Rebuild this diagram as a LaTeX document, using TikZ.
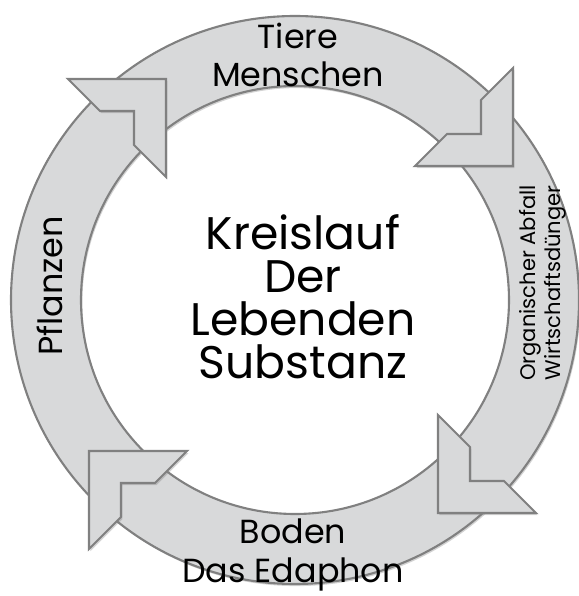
\documentclass[tikz,border=0pt]{standalone}
\usepackage{fontspec}
\setmainfont{Poppins}
\usepackage{tikz}
\usetikzlibrary{shadows}
\definecolor{ringgray}{RGB}{216,217,218}
\definecolor{linegray}{RGB}{128,128,128}

\begin{document}
\begin{tikzpicture}[
    % 圆环样式定义
    ring style/.style={
        draw=linegray,       % 灰色边框
        line width=1.2pt,    % 边框线宽
        fill=ringgray,       % 浅灰填充
        drop shadow={opacity=0.35, shadow xshift=0.8pt, shadow yshift=-1.2pt}
    },
    % 角形箭头样式定义
    turn arrow/.pic={
        \draw[
            draw=linegray,   % 灰色边框
            line width=1.2pt,
            fill=ringgray,   % 与圆环同色
            line join=miter,
            drop shadow={opacity=0.35, shadow xshift=0.8pt, shadow yshift=-1.2pt}
        ] (-1.96,0) -- (0,0) -- (0,-1.96) -- (-0.64,-1.32)
          -- (-0.64,-0.64) -- (-1.32,-0.64) -- cycle;
    },
    % 圆环上的文字
    ring label/.style={
        align=center,
        font=\fontsize{19}{22}\selectfont
    },
    % 右侧较小的文字
    small label/.style={
        align=center,
        font=\fontsize{12}{14}\selectfont
    },
    % 中间的标题
    centre label/.style={
        align=center,
        font=\fontsize{26}{24.5}\selectfont
    }
]
\useasboundingbox (-5.9,-5.92) rectangle (5.68,6.0);

% 圆环 (外圈逆时针, 内圈顺时针, 中间留空)
\path[ring style]
    (0:5.68) arc[start angle=0, end angle=360, radius=5.68] -- cycle
    (0:4.28) arc[start angle=360, end angle=0, radius=4.28] -- cycle;

% 四个箭头
\pic at (-2.58,4.42) {turn arrow};
\pic[rotate=-90] at (4.36,2.68) {turn arrow};
\pic[rotate=180] at (2.86,-4.26) {turn arrow};
\pic[rotate=90] at (-4.12,-3.02) {turn arrow};

% 文字
\node[centre label] (kreislauf) at (0.16,0.06) {Kreislauf\\Der\\Lebenden\\Substanz};
\node[ring label] (tiere) at (0.06,4.9) {Tiere\\Menschen};
\node[ring label] (boden) at (-0.04,-5.1) {Boden\\Das Edaphon};
\node[ring label, rotate=90] (pflanzen) at (-4.9,0.28) {Pflanzen};
\node[small label, rotate=90] (abfall) at (4.96,0.34) {Organischer Abfall\\Wirtschaftsdünger};

\end{tikzpicture}
\end{document}
